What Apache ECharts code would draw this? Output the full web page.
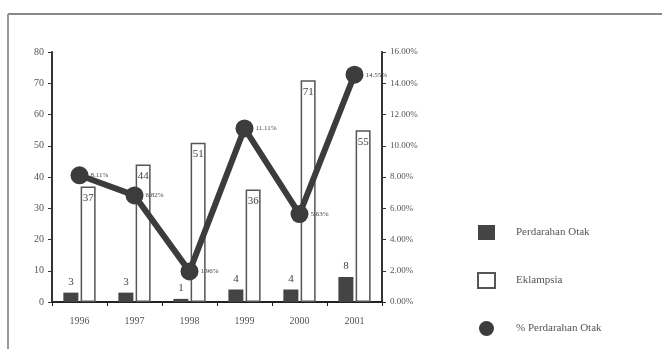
<!DOCTYPE html>
<html>
<head>
<meta charset="UTF-8">
<script src="https://cdn.jsdelivr.net/npm/echarts@6/dist/echarts.min.js"></script>
</head>
<body style="margin:0;background:#fff">
<div id="app" style="width:662px;height:349px;"></div>
<script>
var years = ['1996', '1997', '1998', '1999', '2000', '2001'];
var perdarahan = [3, 3, 1, 4, 4, 8];
var eklampsia = [37, 44, 51, 36, 71, 55];
var persen = [8.11, 6.82, 1.96, 11.11, 5.63, 14.55];

var myChart = echarts.init(document.getElementById('app'));
var font = 'Liberation Serif';
var option = {
    backgroundColor: '#fff',
    textStyle: { fontFamily: font },
    animation: false,
    grid: { left: 52, right: 280, top: 52, bottom: 47 },
    legend: {
        orient: 'vertical',
        left: 472,
        top: 220,
        itemWidth: 17,
        itemHeight: 15,
        itemGap: 32,
        textStyle: { color: '#555', fontSize: 11, fontFamily: font, padding: [0, 0, 0, 16] },
        data: [
            { name: 'Perdarahan Otak', icon: 'rect' },
            { name: 'Eklampsia', icon: 'rect' },
            { name: '% Perdarahan Otak', icon: 'circle' }
        ]
    },
    xAxis: {
        type: 'category',
        data: years,
        axisLine: { lineStyle: { color: '#222', width: 2 } },
        axisTick: { show: true, length: 4, lineStyle: { color: '#222' } },
        axisLabel: { color: '#555', fontSize: 10, margin: 14 }
    },
    yAxis: [{
        type: 'value',
        min: 0, max: 80, interval: 10,
        axisLine: { show: true, lineStyle: { color: '#333', width: 2 } },
        axisTick: { show: true, length: 4, lineStyle: { color: '#333' } },
        axisLabel: { color: '#555', fontSize: 10, margin: 8 },
        splitLine: { show: false }
    }, {
        type: 'value',
        min: 0, max: 16, interval: 2,
        axisLine: { show: true, lineStyle: { color: '#333', width: 2 } },
        axisTick: { show: true, length: 4, lineStyle: { color: '#333' } },
        axisLabel: {
            color: '#555', fontSize: 9, margin: 8,
            formatter: function (v) { return v.toFixed(2) + '%'; }
        },
        splitLine: { show: false }
    }],
    series: [{
        name: 'Perdarahan Otak',
        type: 'bar',
        data: perdarahan,
        barWidth: 15,
        barGap: '15%',
        itemStyle: { color: '#444' },
        label: { show: true, position: 'top', color: '#444', fontSize: 11 }
    }, {
        name: 'Eklampsia',
        type: 'bar',
        data: eklampsia,
        barWidth: 15,
        itemStyle: { color: '#fff', borderColor: '#555', borderWidth: 1.5 },
        label: { show: true, position: 'insideTop', color: '#444', fontSize: 11, distance: 6 }
    }, {
        name: '% Perdarahan Otak',
        type: 'line',
        yAxisIndex: 1,
        data: persen,
        symbol: 'circle',
        symbolSize: 18,
        lineStyle: { color: '#3c3c3c', width: 6 },
        itemStyle: { color: '#3c3c3c' },
        label: {
            show: true, position: 'right', color: '#444', fontSize: 7, distance: 2,
            formatter: function (p) { return p.value.toFixed(2) + '%'; }
        },
        z: 5
    }],
    graphic: [{
        type: 'line',
        shape: { x1: 8, y1: 14, x2: 662, y2: 14 },
        style: { stroke: '#888', lineWidth: 2 }
    }, {
        type: 'line',
        shape: { x1: 8, y1: 14, x2: 8, y2: 349 },
        style: { stroke: '#999', lineWidth: 2 }
    }]
};
myChart.setOption(option);
</script>
</body>
</html>
